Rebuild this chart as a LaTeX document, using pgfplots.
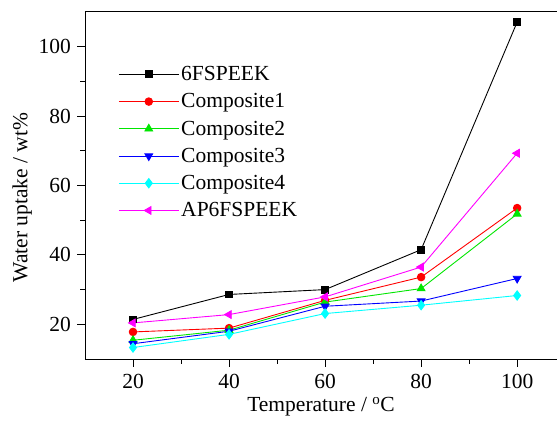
\documentclass[border=0pt]{standalone}
\usepackage{fontspec}
\setmainfont{Liberation Serif}
\usepackage{pgfplots}
\pgfplotsset{compat=1.18}
\usetikzlibrary{calc}

\definecolor{cblack}{RGB}{0,0,0}
\definecolor{cred}{RGB}{255,0,0}
\definecolor{cgreen}{RGB}{0,230,0}
\definecolor{cblue}{RGB}{0,0,255}
\definecolor{ccyan}{RGB}{0,255,255}
\definecolor{cmagenta}{RGB}{255,0,255}

\begin{document}
\begin{tikzpicture}
\begin{axis}[
    scale only axis,
    width=472bp, height=347bp,
    xmin=10, xmax=108.3,
    ymin=10, ymax=110,
    axis y line*=left,
    tick pos=left,
    xtick={20,40,60,80,100},
    ytick={20,40,60,80,100},
    minor xtick={30,50,70,90},
    minor ytick={30,50,70,90},
    tick align=outside,
    major tick length=7.5bp,
    minor tick length=4.5bp,
    every tick/.style={black, line width=0.9pt},
    axis line style={line width=1pt},
    /pgf/number format/assume math mode=true,
    xticklabel style={font=\fontsize{21.5bp}{25bp}\selectfont, yshift=-4bp},
    yticklabel style={font=\fontsize{21.5bp}{25bp}\selectfont, xshift=-3bp},
    xlabel style={font=\fontsize{21.5bp}{25bp}\selectfont, yshift=-2bp},
    ylabel style={font=\fontsize{21.5bp}{25bp}\selectfont, yshift=0bp, xshift=-12bp},
    xlabel={Temperature / \textsuperscript{o}C},
    ylabel={Water uptake / wt\%},
    legend style={draw=none, fill=none, at={(0.066,0.855)}, anchor=north west,
      font=\fontsize{21.5bp}{25bp}\selectfont, row sep=7.5bp, inner sep=2bp},
    legend cell align=left,
    legend image code/.code={
      \draw[mark repeat=2,mark phase=2] plot coordinates {(0bp,0bp) (30bp,0bp) (60bp,0bp)};
    },
    every axis plot/.append style={line width=0.9pt},
]
\addplot[cblack, mark=square*, mark size=3.5pt, mark options={fill=cblack}]
  coordinates {(20,21.4) (40,28.6) (60,30.0) (80,41.5) (100,107.1)};
\addplot[cred, mark=*, mark size=3.8pt, mark options={fill=cred}]
  coordinates {(20,17.8) (40,18.9) (60,26.9) (80,33.6) (100,53.5)};
\addplot[cgreen, mark=triangle*, mark size=4.5pt, mark options={fill=cgreen}]
  coordinates {(20,15.4) (40,18.3) (60,26.4) (80,30.3) (100,51.8)};
\addplot[cblue, mark=triangle*, mark size=4.5pt, mark options={fill=cblue, rotate=180}]
  coordinates {(20,14.4) (40,18.0) (60,25.2) (80,26.7) (100,33.2)};
\addplot[ccyan, mark=diamond*, mark size=4.7pt, mark options={fill=ccyan}]
  coordinates {(20,13.3) (40,17.1) (60,23.1) (80,25.5) (100,28.3)};
\addplot[cmagenta, mark=triangle*, mark size=4.5pt, mark options={fill=cmagenta, rotate=90}]
  coordinates {(20,20.4) (40,22.8) (60,27.9) (80,36.5) (100,69.3)};
\legend{6FSPEEK, Composite1, Composite2, Composite3, Composite4, AP6FSPEEK}
\end{axis}
\pgfresetboundingbox
\path ($(current axis.south west)+(-85bp,-63bp)$) rectangle ($(current axis.north east)+(0bp,12bp)$);
\end{tikzpicture}
\end{document}
